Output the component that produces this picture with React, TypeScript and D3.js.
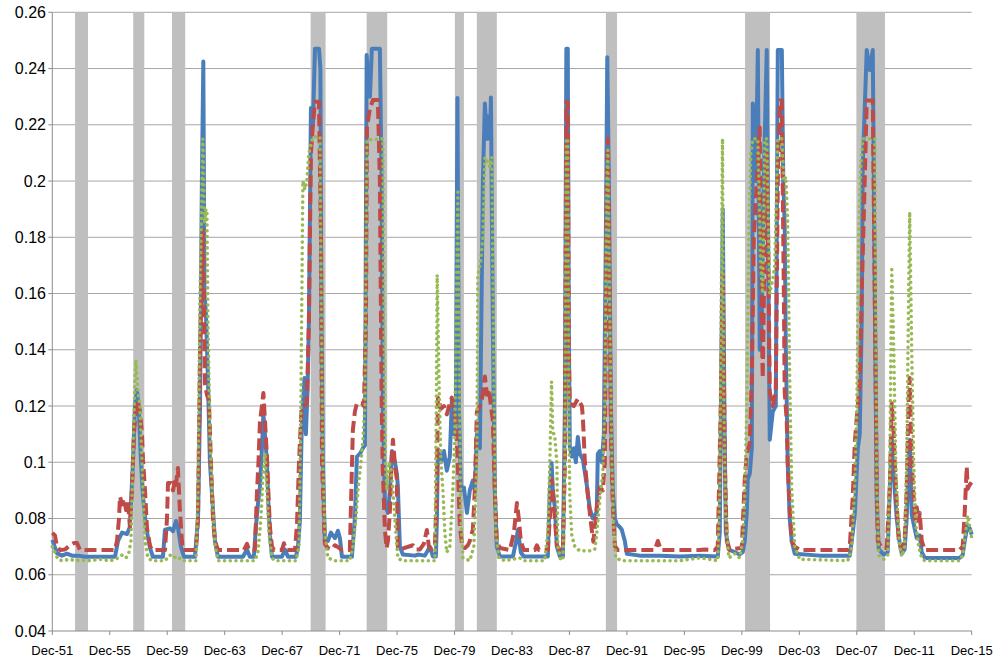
import React from "react";
import * as d3 from "d3";

// Recession bands (decimal years)
const recessionStart = [1953.5, 1957.55, 1960.25, 1969.9, 1973.8, 1979.94, 1981.47, 1990.45, 2000.14, 2007.89];
const recessionEnd = [1954.4, 1958.32, 1961.17, 1970.94, 1975.23, 1980.57, 1982.86, 1991.23, 2001.88, 2009.88];

// Axis ticks
const xTickYears = [1951.917, 1955.917, 1959.917, 1963.917, 1967.917, 1971.917, 1975.917, 1979.917, 1983.917, 1987.917, 1991.917, 1995.917, 1999.917, 2003.917, 2007.917, 2011.917, 2015.917];
const xTickLabels = ["Dec-51", "Dec-55", "Dec-59", "Dec-63", "Dec-67", "Dec-71", "Dec-75", "Dec-79", "Dec-83", "Dec-87", "Dec-91", "Dec-95", "Dec-99", "Dec-03", "Dec-07", "Dec-11", "Dec-15"];
const yTicks = [0.04, 0.06, 0.08, 0.1, 0.12, 0.14, 0.16, 0.18, 0.2, 0.22, 0.24, 0.26];
const yTickLabels = ["0.04", "0.06", "0.08", "0.1", "0.12", "0.14", "0.16", "0.18", "0.2", "0.22", "0.24", "0.26"];

// Series 1 (blue, solid)
const blueSeries: [number, number][] = [
  [1951.92, 0.0724], [1952.24, 0.0677], [1952.59, 0.0668], [1952.94, 0.0675], [1953.29, 0.0668], [1953.71, 0.0668],
  [1954.19, 0.0664], [1956.28, 0.0664], [1956.49, 0.072], [1956.77, 0.075], [1957.12, 0.0745], [1957.32, 0.077],
  [1957.53, 0.1], [1957.67, 0.12], [1957.81, 0.1257], [1957.95, 0.118], [1958.09, 0.1], [1958.23, 0.088],
  [1958.44, 0.077], [1958.72, 0.0695], [1958.92, 0.0664], [1959.62, 0.0664], [1959.76, 0.076], [1960.11, 0.0765],
  [1960.32, 0.0755], [1960.53, 0.0791], [1960.66, 0.077], [1960.87, 0.07], [1961.08, 0.0664], [1961.85, 0.0664],
  [1962.06, 0.08], [1962.2, 0.12], [1962.33, 0.2], [1962.43, 0.2425], [1962.51, 0.16], [1962.61, 0.153],
  [1962.75, 0.13], [1962.89, 0.1], [1963.03, 0.089], [1963.24, 0.072], [1963.45, 0.0664], [1965.19, 0.0664],
  [1965.47, 0.069], [1965.67, 0.0664], [1965.95, 0.0664], [1966.09, 0.077], [1966.23, 0.085], [1966.37, 0.0913],
  [1966.51, 0.105], [1966.61, 0.117], [1966.72, 0.11], [1966.86, 0.1], [1966.96, 0.085], [1967.07, 0.074],
  [1967.21, 0.0664], [1967.9, 0.0664], [1968.11, 0.069], [1968.32, 0.0664], [1968.88, 0.0664], [1969.02, 0.07],
  [1969.15, 0.079], [1969.27, 0.11], [1969.36, 0.12], [1969.47, 0.13], [1969.57, 0.11], [1969.68, 0.125],
  [1969.78, 0.15], [1969.92, 0.226], [1970.06, 0.22], [1970.2, 0.247], [1970.48, 0.247], [1970.58, 0.24],
  [1970.65, 0.15], [1970.75, 0.1], [1970.89, 0.072], [1971.1, 0.072], [1971.31, 0.075], [1971.59, 0.073],
  [1971.8, 0.0756], [1971.94, 0.073], [1972.08, 0.0664], [1972.77, 0.0664], [1972.98, 0.08], [1973.12, 0.102],
  [1973.33, 0.103], [1973.54, 0.105], [1973.68, 0.106], [1973.8, 0.2448], [1973.92, 0.235], [1974.03, 0.23],
  [1974.16, 0.247], [1974.72, 0.247], [1974.84, 0.2], [1974.93, 0.12], [1975.07, 0.085], [1975.28, 0.082],
  [1975.42, 0.09], [1975.56, 0.104], [1975.77, 0.1], [1975.9, 0.096], [1975.97, 0.0917], [1976.11, 0.07],
  [1976.32, 0.0672], [1977.16, 0.0668], [1977.37, 0.0672], [1977.85, 0.0668], [1978.2, 0.07], [1978.41, 0.0665],
  [1978.62, 0.0665], [1978.69, 0.08], [1978.76, 0.1045], [1978.97, 0.1], [1979.18, 0.104], [1979.38, 0.097],
  [1979.59, 0.102], [1979.73, 0.122], [1979.87, 0.11], [1980.01, 0.12], [1980.12, 0.2295], [1980.22, 0.12],
  [1980.36, 0.09], [1980.57, 0.091], [1980.78, 0.082], [1980.98, 0.09], [1981.19, 0.0935], [1981.33, 0.09],
  [1981.47, 0.11], [1981.68, 0.105], [1981.89, 0.2], [1982.03, 0.2276], [1982.17, 0.215], [1982.24, 0.223],
  [1982.38, 0.215], [1982.45, 0.2297], [1982.58, 0.15], [1982.72, 0.09], [1982.86, 0.07], [1983.07, 0.0665],
  [1983.98, 0.0665], [1984.19, 0.0715], [1984.33, 0.076], [1984.53, 0.068], [1984.74, 0.0665], [1986.41, 0.0665],
  [1986.55, 0.09], [1986.67, 0.0997], [1986.76, 0.09], [1986.9, 0.084], [1987.04, 0.07], [1987.25, 0.0665],
  [1987.46, 0.0665], [1987.6, 0.12], [1987.7, 0.247], [1987.8, 0.247], [1987.87, 0.15], [1987.94, 0.1055],
  [1988.08, 0.102], [1988.22, 0.105], [1988.36, 0.1], [1988.5, 0.109], [1988.64, 0.103], [1988.85, 0.101],
  [1989.13, 0.0917], [1989.33, 0.0835], [1989.54, 0.08], [1989.82, 0.0823], [1989.89, 0.103], [1990.03, 0.104],
  [1990.17, 0.1], [1990.31, 0.11], [1990.45, 0.18], [1990.55, 0.244], [1990.66, 0.2], [1990.8, 0.12],
  [1990.93, 0.09], [1991.08, 0.08], [1991.21, 0.078], [1991.42, 0.077], [1991.56, 0.076], [1991.77, 0.072],
  [1991.91, 0.0675], [1992.81, 0.0668], [1994.21, 0.0668], [1995.6, 0.0665], [1996.99, 0.0668], [1998.24, 0.0665],
  [1998.38, 0.075], [1998.52, 0.15], [1998.59, 0.19], [1998.7, 0.12], [1998.8, 0.075], [1999.01, 0.069],
  [1999.43, 0.068], [1999.77, 0.0672], [1999.98, 0.068], [2000.12, 0.072], [2000.26, 0.082], [2000.33, 0.094],
  [2000.47, 0.096], [2000.61, 0.105], [2000.68, 0.2276], [2000.89, 0.2], [2001.03, 0.2466], [2001.16, 0.14],
  [2001.3, 0.15], [2001.44, 0.2], [2001.65, 0.2466], [2001.79, 0.15], [2001.86, 0.108], [2002.07, 0.118],
  [2002.28, 0.12], [2002.42, 0.2466], [2002.7, 0.2466], [2002.8, 0.2], [2002.9, 0.1837], [2002.98, 0.14],
  [2003.04, 0.122], [2003.11, 0.1], [2003.25, 0.08], [2003.39, 0.072], [2003.6, 0.0675], [2005.34, 0.0668],
  [2007.43, 0.0668], [2007.64, 0.075], [2007.78, 0.0815], [2007.99, 0.105], [2008.12, 0.11], [2008.26, 0.15],
  [2008.33, 0.205], [2008.61, 0.2466], [2008.82, 0.2395], [2009.03, 0.2466], [2009.17, 0.16], [2009.31, 0.085],
  [2009.45, 0.069], [2009.79, 0.0672], [2010.07, 0.068], [2010.21, 0.09], [2010.35, 0.109], [2010.49, 0.095],
  [2010.7, 0.08], [2010.91, 0.071], [2011.05, 0.0675], [2011.25, 0.069], [2011.39, 0.08], [2011.53, 0.1],
  [2011.6, 0.108], [2011.74, 0.0815], [2011.88, 0.078], [2012.09, 0.073], [2012.3, 0.074], [2012.44, 0.068],
  [2012.65, 0.066], [2015.08, 0.066], [2015.29, 0.067], [2015.43, 0.072], [2015.57, 0.076], [2015.64, 0.0775],
  [2015.78, 0.0765], [2015.92, 0.0743],
];

// Series 2 (red, dashed)
const redSeries: [number, number][] = [
  [1951.92, 0.0749], [1952.1, 0.074], [1952.24, 0.07], [1952.45, 0.0688], [1952.8, 0.069], [1953.15, 0.0705],
  [1953.43, 0.0713], [1953.64, 0.0713], [1953.84, 0.0688], [1956.28, 0.0688], [1956.42, 0.072], [1956.56, 0.08],
  [1956.63, 0.0878], [1956.77, 0.085], [1956.91, 0.087], [1957.05, 0.083], [1957.18, 0.086], [1957.32, 0.077],
  [1957.46, 0.09], [1957.6, 0.11], [1957.74, 0.12], [1957.81, 0.122], [1957.95, 0.12], [1958.02, 0.118],
  [1958.16, 0.11], [1958.23, 0.101], [1958.37, 0.09], [1958.51, 0.0765], [1958.72, 0.0703], [1958.86, 0.0688],
  [1959.76, 0.0688], [1959.9, 0.08], [1959.97, 0.0926], [1960.18, 0.0926], [1960.32, 0.09], [1960.46, 0.094],
  [1960.53, 0.092], [1960.66, 0.098], [1960.8, 0.083], [1960.94, 0.072], [1961.01, 0.0688], [1961.92, 0.0688],
  [1962.06, 0.08], [1962.2, 0.14], [1962.4, 0.1826], [1962.54, 0.128], [1962.68, 0.124], [1962.82, 0.122],
  [1962.96, 0.1], [1963.1, 0.08], [1963.24, 0.072], [1963.45, 0.0688], [1965.26, 0.0688], [1965.47, 0.071],
  [1965.61, 0.0688], [1966.02, 0.0688], [1966.16, 0.0889], [1966.27, 0.1001], [1966.37, 0.1144], [1966.51, 0.12],
  [1966.61, 0.1246], [1966.72, 0.115], [1966.86, 0.102], [1966.96, 0.089], [1967.07, 0.0767], [1967.21, 0.07],
  [1967.35, 0.0688], [1967.9, 0.0688], [1968.04, 0.0712], [1968.18, 0.069], [1968.32, 0.0688], [1968.81, 0.0688],
  [1968.95, 0.078], [1969.09, 0.1], [1969.27, 0.1198], [1969.43, 0.12], [1969.64, 0.121], [1969.78, 0.15],
  [1969.92, 0.21], [1970.06, 0.22], [1970.2, 0.2282], [1970.48, 0.2282], [1970.62, 0.18], [1970.69, 0.1],
  [1970.89, 0.071], [1971.1, 0.0695], [1971.38, 0.069], [1971.59, 0.0705], [1971.8, 0.0698], [1972.08, 0.0688],
  [1972.63, 0.0688], [1972.84, 0.1115], [1972.98, 0.118], [1973.12, 0.121], [1973.33, 0.121], [1973.47, 0.121],
  [1973.61, 0.12], [1973.75, 0.15], [1973.82, 0.219], [1974.03, 0.226], [1974.24, 0.2288], [1974.58, 0.2288],
  [1974.72, 0.2], [1974.84, 0.123], [1974.91, 0.0997], [1975.07, 0.0759], [1975.19, 0.0695], [1975.28, 0.072],
  [1975.42, 0.083], [1975.54, 0.1015], [1975.63, 0.108], [1975.77, 0.099], [1975.9, 0.094], [1975.97, 0.07],
  [1976.11, 0.069], [1977.02, 0.0705], [1977.23, 0.069], [1977.51, 0.069], [1977.78, 0.071], [1977.99, 0.0759],
  [1978.13, 0.07], [1978.34, 0.069], [1978.55, 0.0705], [1978.69, 0.09], [1978.76, 0.123], [1978.97, 0.119],
  [1979.18, 0.12], [1979.38, 0.117], [1979.59, 0.121], [1979.73, 0.123], [1979.87, 0.118], [1980.01, 0.115],
  [1980.15, 0.0985], [1980.29, 0.077], [1980.43, 0.0713], [1980.64, 0.0695], [1980.85, 0.0705], [1980.98, 0.072],
  [1981.19, 0.076], [1981.33, 0.09], [1981.47, 0.118], [1981.68, 0.12], [1981.89, 0.124], [1982.03, 0.1305],
  [1982.17, 0.124], [1982.31, 0.126], [1982.45, 0.12], [1982.58, 0.115], [1982.72, 0.09], [1982.86, 0.072],
  [1983.07, 0.0695], [1983.77, 0.0688], [1984.05, 0.075], [1984.26, 0.0855], [1984.39, 0.08], [1984.53, 0.072],
  [1984.74, 0.0688], [1985.51, 0.0688], [1985.65, 0.0705], [1985.79, 0.0688], [1986.41, 0.0688], [1986.55, 0.08],
  [1986.69, 0.094], [1986.76, 0.09], [1986.9, 0.08], [1987.04, 0.0705], [1987.25, 0.0688], [1987.46, 0.0688],
  [1987.6, 0.1], [1987.7, 0.2282], [1987.8, 0.2282], [1987.87, 0.14], [1987.94, 0.121], [1988.22, 0.12],
  [1988.5, 0.1225], [1988.78, 0.12], [1988.85, 0.116], [1988.99, 0.1], [1989.2, 0.088], [1989.47, 0.076],
  [1989.58, 0.0717], [1989.82, 0.084], [1990.03, 0.091], [1990.24, 0.09], [1990.38, 0.1], [1990.52, 0.2],
  [1990.59, 0.215], [1990.69, 0.17], [1990.8, 0.11], [1990.93, 0.085], [1991.08, 0.0702], [1991.28, 0.0688],
  [1993.86, 0.0688], [1994.07, 0.072], [1994.28, 0.0688], [1996.99, 0.0688], [1997.34, 0.069], [1998.03, 0.0688],
  [1998.24, 0.07], [1998.45, 0.12], [1998.59, 0.167], [1998.73, 0.1], [1998.87, 0.072], [1999.08, 0.0688],
  [1999.43, 0.0692], [1999.91, 0.0695], [2000.12, 0.094], [2000.26, 0.103], [2000.47, 0.107], [2000.61, 0.13],
  [2000.75, 0.18], [2000.96, 0.2], [2001.16, 0.219], [2001.3, 0.15], [2001.37, 0.13], [2001.51, 0.18],
  [2001.65, 0.21], [2001.79, 0.16], [2001.86, 0.125], [2002.07, 0.12], [2002.28, 0.125], [2002.42, 0.2],
  [2002.56, 0.2286], [2002.7, 0.2286], [2002.84, 0.16], [2002.9, 0.125], [2003.04, 0.115], [2003.11, 0.1],
  [2003.25, 0.083], [2003.39, 0.072], [2003.6, 0.07], [2003.95, 0.0688], [2007.29, 0.0688], [2007.43, 0.07],
  [2007.64, 0.088], [2007.78, 0.107], [2007.92, 0.116], [2007.99, 0.12], [2008.12, 0.128], [2008.26, 0.16],
  [2008.47, 0.2], [2008.61, 0.2286], [2009.03, 0.2286], [2009.17, 0.16], [2009.31, 0.09], [2009.38, 0.072],
  [2009.66, 0.0695], [2010.0, 0.0695], [2010.21, 0.09], [2010.35, 0.121], [2010.49, 0.11], [2010.56, 0.1],
  [2010.7, 0.085], [2010.84, 0.072], [2011.05, 0.069], [2011.25, 0.072], [2011.39, 0.09], [2011.53, 0.122],
  [2011.6, 0.13], [2011.74, 0.1], [2011.95, 0.08], [2012.09, 0.084], [2012.23, 0.079], [2012.3, 0.082],
  [2012.44, 0.072], [2012.65, 0.0688], [2015.08, 0.0688], [2015.29, 0.07], [2015.43, 0.082], [2015.57, 0.0984],
  [2015.64, 0.0905], [2015.78, 0.092], [2015.92, 0.093],
];

// Series 3 (green, dotted)
const greenSeries: [number, number][] = [
  [1951.92, 0.07], [1952.1, 0.068], [1952.31, 0.0655], [1952.59, 0.065], [1953.15, 0.0655], [1953.5, 0.065],
  [1953.84, 0.0652], [1954.54, 0.065], [1955.24, 0.0655], [1955.93, 0.065], [1956.28, 0.0655], [1956.49, 0.066],
  [1956.77, 0.067], [1957.05, 0.066], [1957.25, 0.068], [1957.39, 0.072], [1957.53, 0.1], [1957.67, 0.13],
  [1957.74, 0.1364], [1957.88, 0.125], [1958.02, 0.12], [1958.16, 0.1], [1958.26, 0.085], [1958.37, 0.072],
  [1958.58, 0.066], [1958.86, 0.065], [1959.76, 0.065], [1960.11, 0.067], [1960.32, 0.066], [1960.66, 0.0665],
  [1960.94, 0.065], [1961.92, 0.065], [1962.06, 0.09], [1962.2, 0.16], [1962.4, 0.215], [1962.51, 0.185],
  [1962.61, 0.19], [1962.68, 0.189], [1962.75, 0.15], [1962.89, 0.11], [1963.03, 0.09], [1963.24, 0.071],
  [1963.45, 0.065], [1966.02, 0.065], [1966.23, 0.068], [1966.44, 0.08], [1966.58, 0.095], [1966.72, 0.1033],
  [1966.86, 0.09], [1967.0, 0.075], [1967.21, 0.066], [1967.41, 0.065], [1968.88, 0.065], [1969.09, 0.07],
  [1969.22, 0.12], [1969.36, 0.2], [1969.5, 0.197], [1969.64, 0.2], [1969.78, 0.21], [1970.06, 0.2157],
  [1970.55, 0.2157], [1970.65, 0.15], [1970.75, 0.1], [1970.89, 0.075], [1971.1, 0.066], [1971.59, 0.065],
  [1972.63, 0.065], [1972.84, 0.07], [1973.05, 0.08], [1973.19, 0.09], [1973.4, 0.1], [1973.54, 0.108],
  [1973.68, 0.12], [1973.82, 0.2146], [1974.93, 0.215], [1975.0, 0.15], [1975.1, 0.1], [1975.21, 0.09],
  [1975.35, 0.1], [1975.49, 0.098], [1975.63, 0.09], [1975.83, 0.075], [1975.97, 0.066], [1976.25, 0.065],
  [1978.55, 0.065], [1978.65, 0.12], [1978.71, 0.1666], [1978.83, 0.13], [1978.97, 0.1], [1979.11, 0.09],
  [1979.24, 0.075], [1979.38, 0.068], [1979.59, 0.07], [1979.8, 0.09], [1979.94, 0.11], [1980.08, 0.17],
  [1980.15, 0.196], [1980.25, 0.13], [1980.36, 0.08], [1980.5, 0.066], [1980.98, 0.065], [1981.26, 0.07],
  [1981.47, 0.1], [1981.54, 0.166], [1981.75, 0.172], [1981.89, 0.18], [1982.03, 0.2085], [1982.38, 0.205],
  [1982.51, 0.2085], [1982.65, 0.13], [1982.79, 0.075], [1983.0, 0.066], [1983.42, 0.065], [1984.46, 0.066],
  [1984.74, 0.065], [1986.2, 0.065], [1986.41, 0.075], [1986.55, 0.1], [1986.67, 0.1287], [1986.76, 0.111],
  [1986.9, 0.109], [1987.04, 0.1], [1987.11, 0.07], [1987.32, 0.065], [1987.46, 0.066], [1987.6, 0.1],
  [1987.7, 0.215], [1987.8, 0.215], [1987.87, 0.12], [1987.94, 0.088], [1988.08, 0.074], [1988.29, 0.07],
  [1988.64, 0.0685], [1989.33, 0.0685], [1989.68, 0.069], [1989.82, 0.075], [1990.03, 0.087], [1990.24, 0.096],
  [1990.38, 0.12], [1990.52, 0.2], [1990.59, 0.211], [1990.73, 0.15], [1990.87, 0.1], [1991.01, 0.075],
  [1991.14, 0.066], [1991.56, 0.065], [1995.6, 0.065], [1996.99, 0.066], [1998.24, 0.065], [1998.38, 0.09],
  [1998.57, 0.215], [1998.66, 0.12], [1998.8, 0.08], [1999.01, 0.066], [1999.43, 0.0675], [1999.77, 0.066],
  [1999.98, 0.072], [2000.12, 0.088], [2000.26, 0.12], [2000.4, 0.18], [2000.54, 0.21], [2000.68, 0.215],
  [2001.03, 0.215], [2001.23, 0.17], [2001.37, 0.16], [2001.51, 0.215], [2001.65, 0.215], [2001.86, 0.16],
  [2002.07, 0.165], [2002.21, 0.17], [2002.42, 0.215], [2002.7, 0.215], [2002.84, 0.2], [2002.98, 0.2015],
  [2003.11, 0.185], [2003.25, 0.13], [2003.39, 0.09], [2003.6, 0.07], [2003.95, 0.0655], [2007.29, 0.065],
  [2007.43, 0.067], [2007.57, 0.07], [2007.78, 0.093], [2007.92, 0.12], [2008.05, 0.18], [2008.19, 0.205],
  [2008.33, 0.215], [2009.17, 0.215], [2009.24, 0.15], [2009.31, 0.09], [2009.45, 0.067], [2009.79, 0.0655],
  [2010.07, 0.067], [2010.21, 0.095], [2010.35, 0.1695], [2010.49, 0.14], [2010.63, 0.1], [2010.77, 0.08],
  [2010.91, 0.07], [2011.05, 0.0665], [2011.25, 0.07], [2011.39, 0.1], [2011.53, 0.16], [2011.6, 0.189],
  [2011.74, 0.14], [2011.88, 0.1], [2012.02, 0.078], [2012.23, 0.07], [2012.44, 0.066], [2012.65, 0.065],
  [2015.08, 0.065], [2015.29, 0.067], [2015.43, 0.073], [2015.64, 0.081], [2015.78, 0.077], [2015.92, 0.073],
];

const W = 996;
const H = 661;

export default function App() {
  const x = d3.scaleLinear().domain([1951.917, 2015.917]).range([52.3, 971.7]);
  const y = d3.scaleLinear().domain([0.04, 0.26]).range([631, 12.3]);
  const line = d3
    .line<[number, number]>()
    .x((d) => x(d[0]))
    .y((d) => y(d[1]))
    .curve(d3.curveLinear);

  const font = "'Liberation Sans', Arial, sans-serif";
  const gridColor = "#a6a6a6";

  return (
    <div style={{ position: "absolute", left: 0, top: 0 }}>
      <svg width={W} height={H} viewBox={`0 0 ${W} ${H}`} style={{ display: "block", background: "#fff" }}>
        {/* horizontal gridlines */}
        {yTicks.slice(1).map((t) => (
          <line key={"g" + t} x1={x.range()[0]} x2={x.range()[1]} y1={y(t)} y2={y(t)} stroke={gridColor} strokeWidth={1} />
        ))}
        {/* recession bands */}
        {recessionStart.map((s, i) => (
          <rect key={"r" + i} x={x(s)} y={y(0.26)} width={x(recessionEnd[i]) - x(s)} height={y(0.04) - y(0.26)} fill="#bfbfbf" />
        ))}
        {/* axes */}
        <line x1={x.range()[0]} x2={x.range()[0]} y1={y(0.26)} y2={y(0.04)} stroke="#8c8c8c" strokeWidth={1} />
        <line x1={x.range()[0]} x2={x.range()[1]} y1={y(0.04)} y2={y(0.04)} stroke="#8c8c8c" strokeWidth={1} />
        {yTicks.map((t) => (
          <line key={"yt" + t} x1={x.range()[0] - 4} x2={x.range()[0]} y1={y(t)} y2={y(t)} stroke="#8c8c8c" strokeWidth={1} />
        ))}
        {xTickYears.map((t) => (
          <line key={"xt" + t} x1={x(t)} x2={x(t)} y1={y(0.04)} y2={y(0.04) + 4} stroke="#8c8c8c" strokeWidth={1} />
        ))}
        {/* series */}
        <path d={line(blueSeries) || ""} fill="none" stroke="#4a7ebb" strokeWidth={4} strokeLinejoin="round" />
        <path d={line(redSeries) || ""} fill="none" stroke="#be4b48" strokeWidth={4} strokeDasharray="12 5" strokeLinejoin="round" />
        <path d={line(greenSeries) || ""} fill="none" stroke="#98b954" strokeWidth={3.6} strokeDasharray="0.01 5.7" strokeLinecap="round" strokeLinejoin="round" />
        {/* tick labels */}
        {yTicks.map((t, i) => (
          <text key={"yl" + t} x={46} y={y(t)} dy="0.35em" textAnchor="end" fontFamily={font} fontSize={16} fill="#000">
            {yTickLabels[i]}
          </text>
        ))}
        {xTickYears.map((t, i) => (
          <text key={"xl" + t} x={x(t)} y={655} textAnchor="middle" fontFamily={font} fontSize={13} fill="#000">
            {xTickLabels[i]}
          </text>
        ))}
      </svg>
    </div>
  );
}
